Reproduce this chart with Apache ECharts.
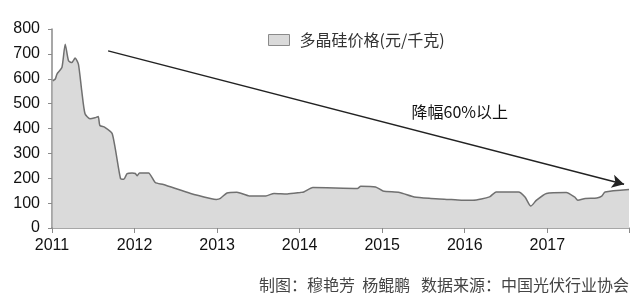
<!DOCTYPE html>
<html>
<head>
<meta charset="utf-8">
<script src="https://cdn.jsdelivr.net/npm/echarts@6/dist/echarts.min.js"></script>
<style>
html,body{margin:0;padding:0;background:#fff;}
#chart{width:640px;height:305px;}
</style>
</head>
<body>
<div id="chart"></div>
<script>
// 时间(年份小数) 与 多晶硅价格(元/千克)
var dates = [2011.01, 2011.04, 2011.06, 2011.12, 2011.16, 2011.20, 2011.24, 2011.28, 2011.32, 2011.36,
	2011.40, 2011.46, 2011.52, 2011.56, 2011.58, 2011.64, 2011.73, 2011.83, 2011.87, 2011.91,
	2011.97, 2012.01, 2012.03, 2012.06, 2012.17, 2012.25, 2012.35, 2012.68, 2012.92, 2012.99,
	2013.04, 2013.12, 2013.24, 2013.39, 2013.59, 2013.69, 2013.85, 2014.01, 2014.05, 2014.16,
	2014.70, 2014.74, 2014.92, 2015.01, 2015.21, 2015.39, 2015.59, 2015.80, 2015.96, 2016.10,
	2016.30, 2016.38, 2016.65, 2016.73, 2016.80, 2016.87, 2016.99, 2017.23, 2017.33, 2017.37,
	2017.46, 2017.60, 2017.66, 2017.70, 2017.99];
var prices = [592, 599, 619, 645, 739, 672, 665, 683, 659, 552,
	459, 439, 443, 448, 412, 405, 379, 199, 196, 219,
	221, 219, 210, 221, 221, 183, 175, 139, 119, 115,
	119, 141, 144, 129, 129, 139, 137, 143, 145, 163,
	159, 168, 165, 149, 143, 125, 119, 115, 112, 112,
	125, 145, 145, 125, 88, 112, 139, 143, 125, 112,
	119, 121, 128, 145, 155];
var yearLabels = ['2011', '2012', '2013', '2014', '2015', '2016', '2017'];
// 趋势箭头起止点
var trendStart = [2011.68, 712];
var trendEnd = [2017.93, 176];

var seriesData = [];
for (var i = 0; i < dates.length; i++) {
	seriesData.push([dates[i], prices[i]]);
}

var myChart = echarts.init(document.getElementById('chart'));
var option = {
	backgroundColor: '#fff',
	animation: false,
	grid: {
		left: 52,
		right: 11,
		top: 29,
		bottom: 77
	},
	legend: {
		left: 263,
		top: 27,
		icon: 'rect',
		itemWidth: 21,
		itemHeight: 11,
		itemStyle: {
			color: '#dadada',
			borderColor: '#8a8a8a',
			borderWidth: 1
		},
		textStyle: {
			fontFamily: 'Noto Sans CJK SC',
			fontSize: 16,
			color: '#333',
			padding: [0, 0, 0, 5]
		},
		data: ['多晶硅价格(元/千克)']
	},
	xAxis: {
		type: 'value',
		min: 2011,
		max: 2017.99,
		interval: 1,
		splitLine: { show: false },
		axisLine: { lineStyle: { color: '#8a8a8a', width: 1.5 } },
		axisTick: { show: true, length: 5, lineStyle: { color: '#8a8a8a' } },
		axisLabel: {
			margin: 10,
			fontFamily: 'Liberation Sans',
			fontSize: 16,
			color: '#111',
			formatter: function (v) {
				var idx = Math.round(v) - 2011;
				return yearLabels[idx] || '';
			}
		}
	},
	yAxis: {
		type: 'value',
		min: 0,
		max: 800,
		interval: 100,
		splitLine: { show: false },
		axisLine: { show: true, lineStyle: { color: '#8a8a8a', width: 1.5 } },
		axisTick: { show: true, length: 4, lineStyle: { color: '#8a8a8a' } },
		axisLabel: {
			margin: 12,
			fontFamily: 'Liberation Sans',
			fontSize: 16,
			color: '#111'
		}
	},
	series: [
		{
			name: '多晶硅价格(元/千克)',
			type: 'line',
			data: seriesData,
			smooth: 0.2,
			showSymbol: false,
			symbol: 'none',
			lineStyle: { color: '#707070', width: 1.5 },
			itemStyle: { color: '#707070' },
			areaStyle: { color: '#dadada', opacity: 1 },
			markLine: {
				silent: true,
				symbol: ['none', 'arrow'],
				symbolSize: [10, 12],
				label: { show: false },
				lineStyle: { color: '#222', width: 1.5, type: 'solid' },
				data: [[{ coord: trendStart }, { coord: trendEnd }]]
			}
		}
	],
	graphic: [
		{
			type: 'text',
			right: 132,
			top: 104,
			style: {
				text: '降幅60%以上',
				font: '16px "Noto Sans CJK SC"',
				fill: '#111'
			}
		},
		{
			type: 'text',
			right: 11,
			top: 277,
			style: {
				text: '制图：穆艳芳  杨鲲鹏   数据来源：中国光伏行业协会',
				font: '16px "Noto Sans CJK SC"',
				fill: '#444'
			}
		}
	]
};
myChart.setOption(option);
</script>
</body>
</html>
